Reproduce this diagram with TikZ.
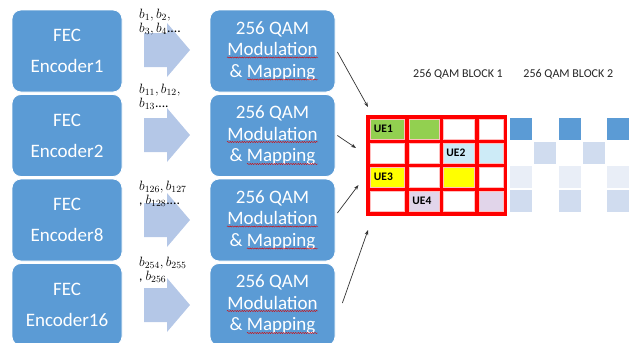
\RequirePackage{fix-cm}
\documentclass[tikz,border=0pt]{standalone}
\usepackage{fontspec}
\setmainfont{Carlito}
\usetikzlibrary{arrows.meta,calc,decorations.pathmorphing}
\definecolor{boxblue}{HTML}{5B9BD5}
\definecolor{arrowblue}{HTML}{B4C7E7}
\definecolor{uegreen}{HTML}{92D050}
\definecolor{uecyan}{HTML}{CDEBF7}
\definecolor{ueyellow}{HTML}{FFFF00}
\definecolor{uelilac}{HTML}{E1D5EA}
\definecolor{blkmid}{HTML}{D0DCEF}
\definecolor{blkpale}{HTML}{E9EEF7}
\definecolor{labelgrey}{HTML}{262626}

\begin{document}
\begin{tikzpicture}[x=1pt,y=-1pt,
  encbox/.style={fill=boxblue, draw=white, line width=0.8pt, rounded corners=9pt,
    minimum width=110pt, minimum height=82pt, text=white, align=center,
    font=\fontsize{19}{31}\selectfont, inner sep=0pt},
  modbox/.style={encbox, minimum width=125pt, font=\fontsize{19}{21.5}\selectfont},
  bits/.style={anchor=north west, inner sep=0pt, align=left, text=black, font=\fontsize{13.5}{14.5}\selectfont},
  fatarrow/.style={fill=arrowblue},
  cell/.style={draw={rgb,255:red,255;green,190;blue,190}, line width=0.6pt, inner sep=0pt, minimum height=20pt},
  uetext/.style={anchor=west, inner sep=0pt, font=\fontsize{11.5}{12}\selectfont\bfseries},
  blk/.style={draw=white, line width=0.6pt, inner sep=0pt, minimum width=23pt, minimum height=23pt},
  title/.style={inner sep=0pt, text=labelgrey, font=\fontsize{12}{12}\selectfont},
  link/.style={black!80, line width=0.7pt, -{Stealth[length=5pt,width=3.6pt]}},
  spell/.style={red!85!black, line width=0.4pt, decorate, decoration={snake, amplitude=0.6pt, segment length=2.4pt}}
]
\useasboundingbox (0,0) rectangle (630,343);

% FEC encoders
\node[encbox] (e1) at (67,51)    {FEC\\Encoder1};
\node[encbox] (e2) at (67,135.5) {FEC\\Encoder2};
\node[encbox] (e3) at (67,220)   {FEC\\Encoder8};
\node[encbox] (e4) at (67,304.5) {FEC\\Encoder16};

% modulation and mapping blocks
\node[modbox] (m1) at (272.5,51)    {256 QAM\\Modulation\\\& Mapping};
\node[modbox] (m2) at (272.5,135.5) {256 QAM\\Modulation\\\& Mapping};
\node[modbox] (m3) at (272.5,220)   {256 QAM\\Modulation\\\& Mapping};
\node[modbox] (m4) at (272.5,304.5) {256 QAM\\Modulation\\\& Mapping};

% spell-check squiggles under the words
\foreach \m in {m1,m2,m3,m4}{
  \draw[spell] ($(\m.center)+(-45.5,6.5)$) -- ($(\m.center)+(45.5,6.5)$);
  \draw[spell] ($(\m.center)+(-25.5,28.5)$) -- ($(\m.center)+(45.5,28.5)$);
}

% block arrows between encoders and modulators
\foreach \c in {50,135,220,305}
  \fill[fatarrow] (144,\c-17) -- (167,\c-17) -- (167,\c-27) -- (190,\c)
    -- (167,\c+27) -- (167,\c+17) -- (144,\c+17) -- cycle;

% bit labels
\node[bits] (l1) at (139,8.5)   {$b_1, b_2,$\\$b_3, b_4$....};
\node[bits] (l2) at (139,83.5)  {$b_{11}, b_{12},$\\$b_{13}$....};
\node[bits] (l3) at (139,180.5) {$b_{126}, b_{127}$\\, $b_{128}$....};
\node[bits] (l4) at (139,256.5) {$b_{254}, b_{255}$\\, $b_{256}$};

% block titles
\node[title] (h1) at (458,74)   {256 QAM BLOCK 1};
\node[title] (h2) at (568.3,74) {256 QAM BLOCK 2};

% block 1: red grid with user allocations
\node[fill=red, inner sep=0pt, minimum width=141pt, minimum height=101pt] (grid) at (436.5,165.5) {};
\def\colA{387.5}\def\colB{424}\def\colC{458.75}\def\colD{491.25}
\def\rowA{129.5}\def\rowB{153.5}\def\rowC{177.5}\def\rowD{201.5}
\tikzset{wa/.style={minimum width=34pt}, wb/.style={minimum width=30pt},
  wc/.style={minimum width=31.5pt}, wd/.style={minimum width=24.5pt}}
\node[cell,wa,fill=uegreen] (c11) at (\colA,\rowA) {};
\node[cell,wb,fill=uegreen] (c12) at (\colB,\rowA) {};
\node[cell,wc,fill=white]   (c13) at (\colC,\rowA) {};
\node[cell,wd,fill=white]   (c14) at (\colD,\rowA) {};
\node[cell,wa,fill=white]   (c21) at (\colA,\rowB) {};
\node[cell,wb,fill=white]   (c22) at (\colB,\rowB) {};
\node[cell,wc,fill=uecyan]  (c23) at (\colC,\rowB) {};
\node[cell,wd,fill=uecyan]  (c24) at (\colD,\rowB) {};
\node[cell,wa,fill=ueyellow] (c31) at (\colA,\rowC) {};
\node[cell,wb,fill=white]    (c32) at (\colB,\rowC) {};
\node[cell,wc,fill=ueyellow] (c33) at (\colC,\rowC) {};
\node[cell,wd,fill=white]    (c34) at (\colD,\rowC) {};
\node[cell,wa,fill=white]   (c41) at (\colA,\rowD) {};
\node[cell,wb,fill=uelilac] (c42) at (\colB,\rowD) {};
\node[cell,wc,fill=white]   (c43) at (\colC,\rowD) {};
\node[cell,wd,fill=uelilac] (c44) at (\colD,\rowD) {};
\node[uetext] (u1) at ($(c11.west)+(3.5,-0.5)$) {UE1};
\node[uetext] (u2) at ($(c23.west)+(3.5,-0.5)$) {UE2};
\node[uetext] (u3) at ($(c31.west)+(3.5,-0.5)$) {UE3};
\node[uetext] (u4) at ($(c42.west)+(3.5,-0.5)$) {UE4};

% block 2: pilot-like pattern
\foreach \x [count=\i] in {520.5,569.5,618}{
  \node[blk,fill=boxblue] (bA\i) at (\x,128.5) {};
  \node[blk,fill=blkpale] (bC\i) at (\x,176.5) {};
  \node[blk,fill=blkmid]  (bD\i) at (\x,200.5) {};
}
\foreach \x [count=\i] in {545,593.5}
  \node[blk,fill=blkmid] (bB\i) at (\x,152.5) {};

% links from modulators into block 1
\coordinate (s1) at ($(m1.east)+(2,1)$);
\coordinate (s2) at ($(m2.east)+(2,0)$);
\coordinate (s3) at ($(m3.east)+(2,-7)$);
\coordinate (s4) at ($(m4.east)+(7,-1.5)$);
\coordinate (t1) at (368,107);
\coordinate (t2) at (356,148);
\coordinate (t3) at (358.5,185);
\coordinate (t4) at (368,230);
\draw[link] (s1) -- (t1);
\draw[link] (s2) -- (t2);
\draw[link] (s3) -- (t3);
\draw[link] (s4) -- (t4);
\end{tikzpicture}
\end{document}
